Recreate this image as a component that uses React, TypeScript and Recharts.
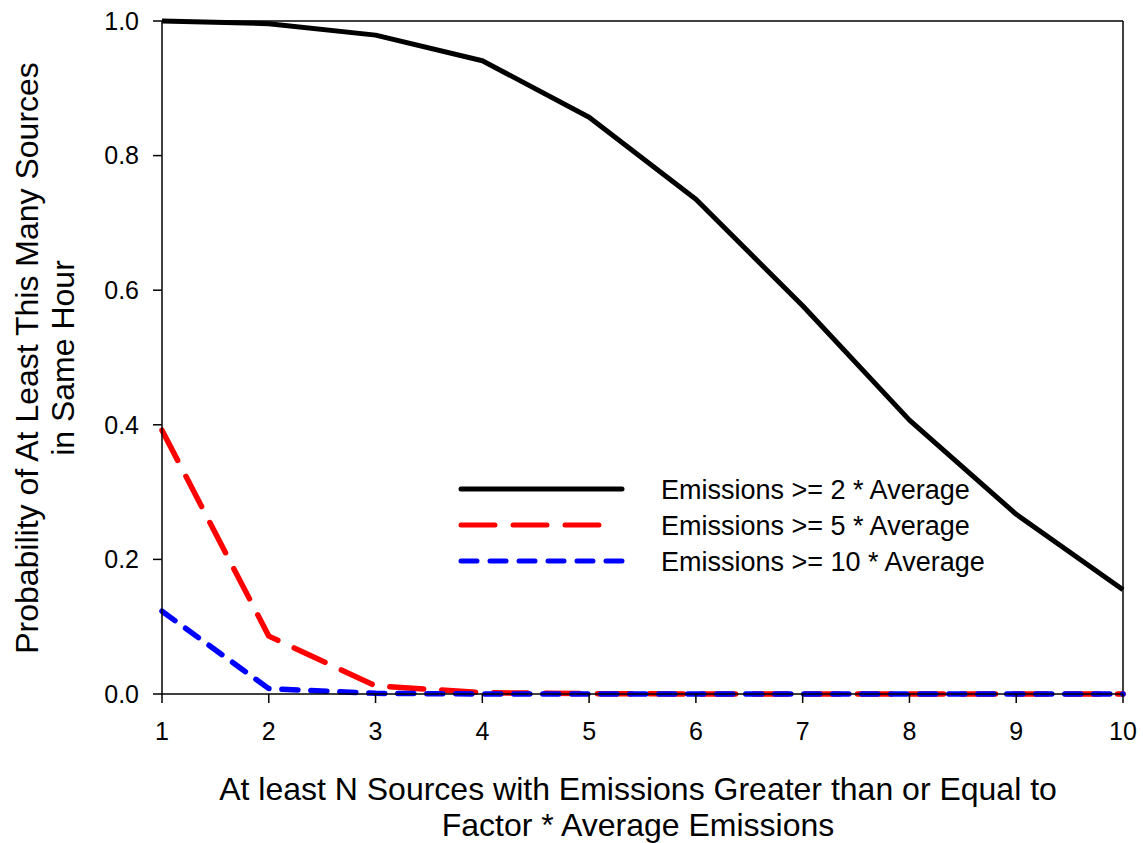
import React from 'react';
import { LineChart, Line, XAxis, YAxis, ReferenceLine, Legend } from 'recharts';

const nValues = [1, 2, 3, 4, 5, 6, 7, 8, 9, 10];
const factor2 = [1.0, 0.996, 0.979, 0.941, 0.857, 0.735, 0.577, 0.407, 0.267, 0.155];
const factor5 = [0.392, 0.086, 0.012, 0.002, 0.0005, 0, 0, 0, 0, 0];
const factor10 = [0.123, 0.008, 0.001, 0, 0, 0, 0, 0, 0, 0];
const yTicks = [0, 0.2, 0.4, 0.6, 0.8, 1.0];
const seriesNames = ['Emissions >= 2 * Average', 'Emissions >= 5 * Average', 'Emissions >= 10 * Average'];
const xTitleLines = ['At least N Sources with Emissions Greater than or Equal to', 'Factor * Average Emissions'];
const yTitleLines = ['Probability of At Least This Many Sources', 'in Same Hour'];

const FONT = "'Liberation Sans', Arial, Helvetica, sans-serif";

const data = nValues.map((n, i) => ({ n, f2: factor2[i], f5: factor5[i], f10: factor10[i] }));

const seriesStyles = [
  { key: 'f2', name: seriesNames[0], color: '#000000', dash: undefined as string | undefined, width: 5, legendEnd: 182 },
  { key: 'f5', name: seriesNames[1], color: '#ff0000', dash: '34 18', width: 5.5, legendEnd: 159 },
  { key: 'f10', name: seriesNames[2], color: '#0000ff', dash: '16 13', width: 5.5, legendEnd: 182 },
];

const XTitle = () => (
  <text fontFamily={FONT} fontSize={32} fill="#000" textAnchor="middle">
    <tspan x={638} y={800}>{xTitleLines[0]}</tspan>
    <tspan x={638} y={836}>{xTitleLines[1]}</tspan>
  </text>
);

const YTitle = () => (
  <g>
    <text fontFamily={FONT} fontSize={32} fill="#000" textAnchor="middle" transform="translate(38,358) rotate(-90)">
      {yTitleLines[0]}
    </text>
    <text fontFamily={FONT} fontSize={32} fill="#000" textAnchor="middle" transform="translate(74,358) rotate(-90)">
      {yTitleLines[1]}
    </text>
  </g>
);

const LegendBox = () => (
  <svg width={560} height={130} style={{ display: 'block', overflow: 'visible' }}>
    {seriesStyles.map((s, i) => (
      <g key={s.key}>
        <line
          x1={21}
          x2={s.legendEnd}
          y1={29 + i * 36}
          y2={29 + i * 36}
          stroke={s.color}
          strokeWidth={5}
          strokeDasharray={s.dash}
          strokeLinecap="round"
        />
        <text x={221} y={39 + i * 36} fontFamily={FONT} fontSize={27} fill="#000">
          {s.name}
        </text>
      </g>
    ))}
  </svg>
);

export default function App() {
  return (
    <div style={{ position: 'absolute', left: 0, top: 0, width: 1143, height: 843, background: '#fff' }}>
      <LineChart width={1143} height={843} data={data} margin={{ top: 21, right: 20, left: 62, bottom: 89 }}>
        <XAxis
          dataKey="n"
          type="number"
          domain={[1, 10]}
          ticks={nValues}
          height={60}
          tickSize={9}
          tickMargin={19}
          axisLine={{ stroke: '#000', strokeWidth: 1.5 }}
          tickLine={{ stroke: '#000', strokeWidth: 1.5 }}
          tick={{ fill: '#000', fontSize: 25, fontFamily: FONT }}
          label={<XTitle />}
        />
        <YAxis
          type="number"
          domain={[0, 1]}
          ticks={yTicks}
          width={100}
          tickSize={9}
          tickMargin={14}
          tickFormatter={(v: number) => v.toFixed(1)}
          axisLine={{ stroke: '#000', strokeWidth: 1.5 }}
          tickLine={{ stroke: '#000', strokeWidth: 1.5 }}
          tick={{ fill: '#000', fontSize: 25, fontFamily: FONT }}
          label={<YTitle />}
        />
        <ReferenceLine y={1} stroke="#000" strokeWidth={1.5} />
        <ReferenceLine x={10} stroke="#000" strokeWidth={1.5} />
        {seriesStyles.map((s) => (
          <Line
            key={s.key}
            type="linear"
            dataKey={s.key}
            name={s.name}
            stroke={s.color}
            strokeWidth={s.width}
            strokeDasharray={s.dash}
            strokeLinecap={s.dash ? 'round' : 'butt'}
            strokeLinejoin="round"
            dot={false}
            activeDot={false}
            isAnimationActive={false}
          />
        ))}
        <Legend
          layout="vertical"
          align="center"
          verticalAlign="middle"
          content={() => <LegendBox />}
          wrapperStyle={{ left: 440, top: 460, width: 560, height: 130, margin: 0 }}
        />
      </LineChart>
    </div>
  );
}
